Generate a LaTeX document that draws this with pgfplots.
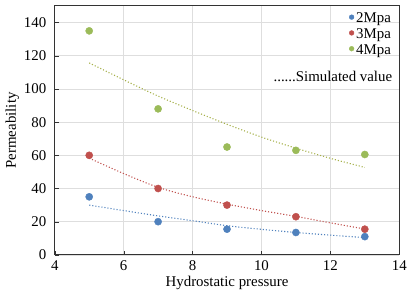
\documentclass[border=0pt]{standalone}
\usepackage{pgfplots}
\pgfplotsset{compat=1.18}
\usepackage{fontspec}
\setmainfont{Liberation Serif}
\definecolor{cblue}{HTML}{4F81BD}
\definecolor{cred}{HTML}{C0504D}
\definecolor{cgreen}{HTML}{9BBB59}
\definecolor{cline}{HTML}{A5B04A}
\begin{document}
\begin{tikzpicture}
\begin{axis}[
  scale only axis, width=346bp, height=250bp,
  xmin=4, xmax=14, ymin=0, ymax=150,
  xtick={4,6,...,14}, ytick={0,20,...,140},
  grid=major, major grid style={draw=black!13, line width=0.6pt},
  axis line style={draw=black!80, line width=1pt},
  tick pos=left, tick align=inside, major tick length=4bp,
  tick style={draw=black!80},
  /pgf/number format/assume math mode=true,
  ticklabel style={font=\fontsize{15}{17}\selectfont},
  label style={font=\fontsize{15}{17}\selectfont},
  xticklabel style={yshift=-2bp},
  yticklabel style={xshift=-5bp},
  xlabel={Hydrostatic pressure}, ylabel={Permeability},
  xlabel style={yshift=1bp}, ylabel style={yshift=-2bp},
  legend style={draw=none, fill=none, at={(rel axis cs:0.985,0.985)}, anchor=north east,
    font=\fontsize{15}{15}\selectfont, row sep=0.5pt, inner sep=1pt},
  legend cell align=left,
  legend image code/.code={\fill (0.15cm,0.05cm) circle (2.4bp);},
]
\addplot[only marks, mark=*, mark size=3.6bp, color=cblue] coordinates {(5,35) (7,20) (9,15.5) (11,13.5) (13,11)};
\addlegendentry{2Mpa}
\addplot[only marks, mark=*, mark size=3.6bp, color=cred] coordinates {(5,60) (7,40) (9,30) (11,23) (13,15.5)};
\addlegendentry{3Mpa}
\addplot[only marks, mark=*, mark size=3.6bp, color=cgreen] coordinates {(5,135) (7,88) (9,65) (11,63) (13,60.5)};
\addlegendentry{4Mpa}
\addplot[forget plot, smooth, dotted, line width=1.1pt, color=cblue] coordinates {(5,30) (6,26.7) (7,23.5) (8,20.6) (9,17.6) (10,15.4) (11,13.5) (12,11.9) (13,10.4)};
\addplot[forget plot, smooth, dotted, line width=1.1pt, color=cred] coordinates {(5,58.3) (6,49) (7,40.7) (8,35) (9,30.6) (10,26.7) (11,23.2) (12,19.3) (13,15.6)};
\addplot[forget plot, smooth, dotted, line width=1.1pt, color=cline] coordinates {(5,115.7) (6,105.5) (7,95.7) (8,87) (9,78.7) (10,71) (11,64.3) (12,58.2) (13,52.7)};
\node[anchor=east, font=\fontsize{15}{17}\selectfont, inner sep=0pt] at (axis cs:13.8,107.5) {......Simulated value};
\end{axis}
\path[use as bounding box] (current axis.south west) ++(-55bp,-48bp) rectangle ++(410bp,304bp);
\end{tikzpicture}
\end{document}
